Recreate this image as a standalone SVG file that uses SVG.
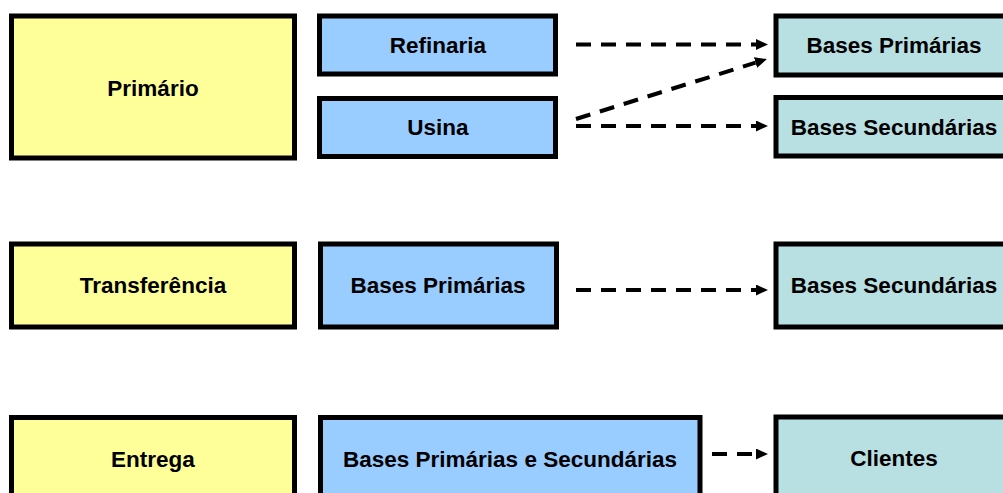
<svg xmlns="http://www.w3.org/2000/svg" width="1003" height="493" viewBox="0 0 1003 493">
  <defs>
    <style>
      .box { stroke: #000; stroke-width: 5; }
      .stage { fill: #FFFF99; }
      .origin { fill: #99CCFF; }
      .target { fill: #B8DFE2; }
      .label { font-family: "Liberation Sans", Arial, sans-serif; font-weight: bold; font-size: 22.5px; fill: #000; text-anchor: middle; }
      .flow { stroke: #000; stroke-width: 4; stroke-dasharray: 15 10; fill: none; }
    </style>
    <marker id="arrow" markerUnits="userSpaceOnUse" markerWidth="12" markerHeight="11" refX="0" refY="5.5" orient="auto">
      <path d="M0,0 L12,5.5 L0,11 z" fill="#000"/>
    </marker>
  </defs>
  <rect width="1003" height="493" fill="#fff"/>

  <!-- Row 1: Primário -->
  <g id="primario">
    <rect class="box stage" x="11.5" y="16" width="283" height="142"/>
    <text class="label" x="153" y="96">Primário</text>
  </g>
  <g id="refinaria">
    <rect class="box origin" x="319.5" y="16" width="236" height="58"/>
    <text class="label" x="438" y="53">Refinaria</text>
  </g>
  <g id="usina">
    <rect class="box origin" x="319.5" y="98.5" width="236" height="58"/>
    <text class="label" x="438" y="135">Usina</text>
  </g>
  <g id="bases-primarias-1">
    <rect class="box target" x="776" y="16" width="240" height="59"/>
    <text class="label" x="894" y="53">Bases Primárias</text>
  </g>
  <g id="bases-secundarias-1">
    <rect class="box target" x="776" y="97.5" width="240" height="58.5"/>
    <text class="label" x="894" y="135">Bases Secundárias</text>
  </g>

  <!-- Row 2: Transferência -->
  <g id="transferencia">
    <rect class="box stage" x="11.5" y="244" width="283" height="83"/>
    <text class="label" x="153" y="293">Transferência</text>
  </g>
  <g id="bases-primarias-2">
    <rect class="box origin" x="320.5" y="244" width="236" height="83"/>
    <text class="label" x="438" y="293">Bases Primárias</text>
  </g>
  <g id="bases-secundarias-2">
    <rect class="box target" x="776" y="244" width="240" height="83"/>
    <text class="label" x="894" y="293">Bases Secundárias</text>
  </g>

  <!-- Row 3: Entrega -->
  <g id="entrega">
    <rect class="box stage" x="11.5" y="417.5" width="283" height="90"/>
    <text class="label" x="153" y="467">Entrega</text>
  </g>
  <g id="bases-primarias-secundarias">
    <rect class="box origin" x="320.5" y="417.5" width="379.5" height="90"/>
    <text class="label" x="510" y="467">Bases Primárias e Secundárias</text>
  </g>
  <g id="clientes">
    <rect class="box target" x="776" y="417" width="240" height="90"/>
    <text class="label" x="894" y="466">Clientes</text>
  </g>

  <!-- Connectors -->
  <g id="connectors">
    <line class="flow" x1="576" y1="44.5" x2="756" y2="44.5" marker-end="url(#arrow)"/>
    <line class="flow" x1="576" y1="119" x2="755.5" y2="62.6" marker-end="url(#arrow)"/>
    <line class="flow" x1="576" y1="126" x2="756" y2="126" marker-end="url(#arrow)"/>
    <line class="flow" x1="576" y1="290" x2="756" y2="290" marker-end="url(#arrow)"/>
    <line class="flow" x1="712" y1="454" x2="756" y2="454" marker-end="url(#arrow)"/>
  </g>
</svg>
